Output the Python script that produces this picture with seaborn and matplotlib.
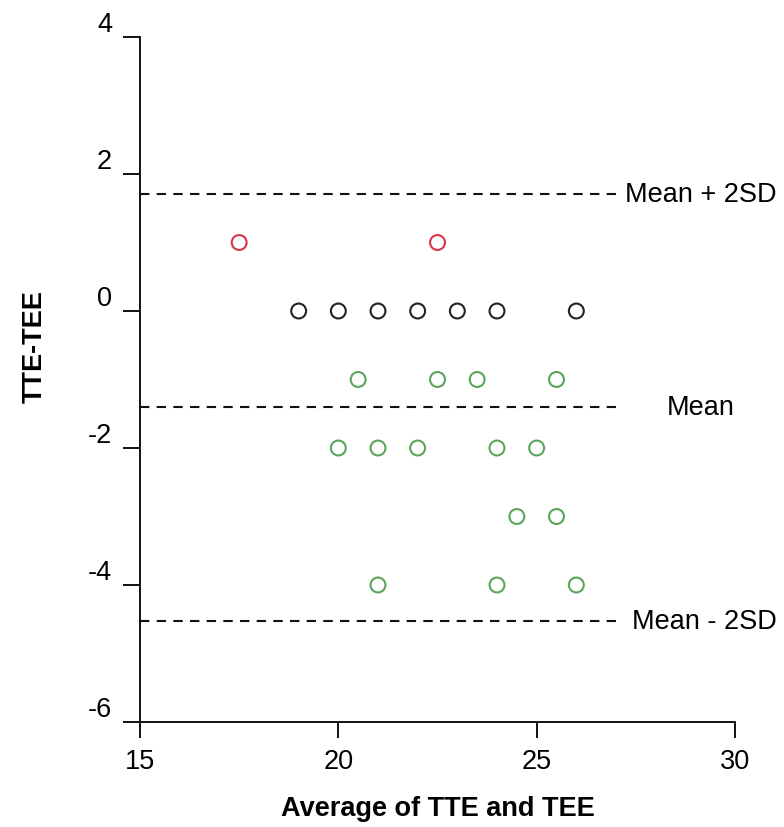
import numpy as np
import pandas as pd
import seaborn as sns
import matplotlib.pyplot as plt
from matplotlib.transforms import ScaledTranslation

# values
avg_tte_tee = [17.5, 22.5,
               19, 20, 21, 22, 23, 24, 26,
               20.5, 22.5, 23.5, 25.5,
               20, 21, 22, 24, 25,
               24.5, 25.5,
               21, 24, 26]
tte_minus_tee = [1, 1,
                 0, 0, 0, 0, 0, 0, 0,
                 -1, -1, -1, -1,
                 -2, -2, -2, -2, -2,
                 -3, -3,
                 -4, -4, -4]

mean_diff = -1.40
upper_limit = 1.71    # mean + 2SD
lower_limit = -4.53   # mean - 2SD

x_ticks = [15, 20, 25, 30]
y_ticks = [-6, -4, -2, 0, 2, 4]

df = pd.DataFrame({"avg": avg_tte_tee, "diff": tte_minus_tee})
df["group"] = np.select([df["diff"] > 0, df["diff"] == 0], ["pos", "zero"], "neg")
palette = {"pos": "#d9344c", "zero": "#222222", "neg": "#5ba55a"}

sns.set_style("ticks")
plt.rcParams["font.family"] = ["Liberation Sans", "DejaVu Sans"]
plt.rcParams["text.color"] = "black"
plt.rcParams["axes.labelcolor"] = "black"
plt.rcParams["xtick.labelcolor"] = "black"
plt.rcParams["ytick.labelcolor"] = "black"
fs = 19.5

fig = plt.figure(figsize=(7.84, 8.28), dpi=100)
ax = fig.add_axes([140 / 784, 105 / 828, 595 / 784, 685 / 828])

# dashed limit lines
for yv in [upper_limit, mean_diff, lower_limit]:
    ax.plot([15, 27], [yv, yv], color="#111111", lw=1.5,
            linestyle=(0, (4.5, 3.5)), zorder=1)

sns.scatterplot(data=df, x="avg", y="diff", hue="group", palette=palette,
                s=115, facecolor="white", linewidth=1.5, legend=False,
                ax=ax, zorder=3)
# open circles: edge in group colour, white face
coll = ax.collections[-1]
coll.set_edgecolors([palette[g] for g in df["group"]])
coll.set_facecolors("white")

ax.text(27.22, upper_limit, "Mean + 2SD", fontsize=fs, va="center", ha="left", clip_on=False)
ax.text(28.28, mean_diff, "Mean", fontsize=fs, va="center", ha="left", clip_on=False)
ax.text(27.40, lower_limit, "Mean - 2SD", fontsize=fs, va="center", ha="left", clip_on=False)

ax.set_xlim(15, 30)
ax.set_ylim(-6, 4)
ax.set_xticks(x_ticks)
ax.set_yticks(y_ticks)
ax.set_xticklabels([str(v) for v in x_ticks])
ax.set_yticklabels([str(v) for v in y_ticks])

for side in ["top", "right"]:
    ax.spines[side].set_visible(False)
for side in ["left", "bottom"]:
    ax.spines[side].set_linewidth(1.4)
    ax.spines[side].set_color("#111111")

ax.tick_params(axis="x", length=11.5, width=1.4, pad=7, labelsize=fs, color="#111111")
ax.tick_params(axis="y", length=12, width=1.4, pad=8, labelsize=fs, color="#111111")

# y tick labels sit a bit above their ticks in the original
offset = ScaledTranslation(0, 0.16, fig.dpi_scale_trans)
for lab in ax.get_yticklabels():
    lab.set_transform(lab.get_transform() + offset)

ax.set_xlabel("Average of TTE and TEE", fontsize=fs, fontweight="bold")
ax.set_ylabel("TTE-TEE", fontsize=fs, fontweight="bold")
ax.xaxis.set_label_coords(0.5, -0.106)
ax.yaxis.set_label_coords(-0.155, 0.55)

fig.savefig("out.png", dpi=100)
